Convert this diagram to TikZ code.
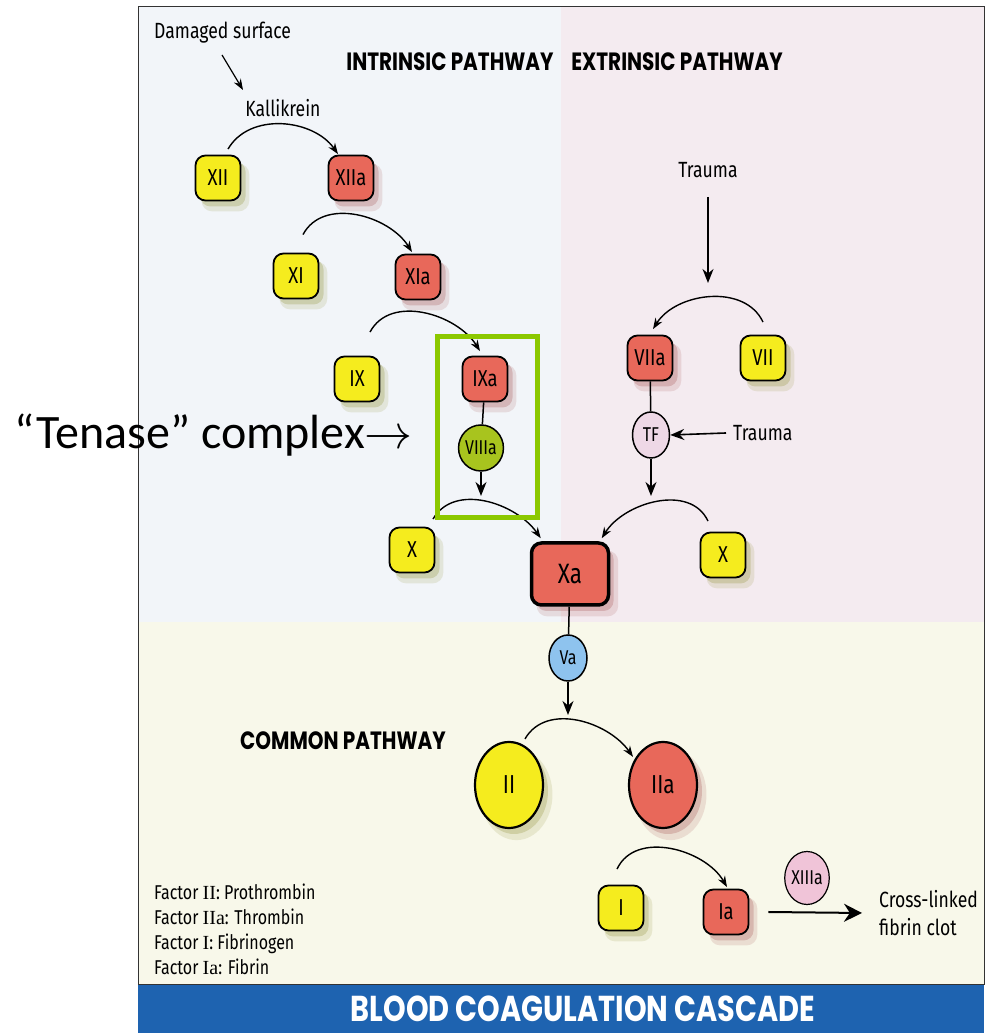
\documentclass[tikz,border=0pt]{standalone}
\usepackage{fix-cm}
\usepackage{fontspec}
\usetikzlibrary{arrows.meta,shadows,shapes.geometric,positioning}
\newfontfamily\labfont[FakeStretch=0.8]{Fira Sans}
\newfontfamily\headfont[FakeStretch=0.8]{Poppins}
\newfontfamily\tenfont{Carlito}
\newfontfamily\numfont{Liberation Serif}
\definecolor{intbg}{HTML}{F2F5F9}
\definecolor{extbg}{HTML}{F4EBF0}
\definecolor{combg}{HTML}{F8F8EA}
\definecolor{bannerB}{HTML}{1E63B0}
\definecolor{facY}{HTML}{F5EC1E}
\definecolor{facR}{HTML}{E8685A}
\definecolor{cofG}{HTML}{A8C41E}
\definecolor{tfP}{HTML}{EED8E6}
\definecolor{vaB}{HTML}{8EC3EE}
\definecolor{xiiiP}{HTML}{F0C4D8}
\definecolor{tenG}{HTML}{8CC800}
\definecolor{shY}{HTML}{8A8A2A}
\definecolor{shR}{HTML}{A04848}
\begin{document}
\begin{tikzpicture}[x=1pt,y=1pt,
  box/.style={draw=black, line width=1.8pt, rounded corners=10pt, minimum width=45pt, minimum height=45pt, inner sep=0pt, font=\labfont\fontsize{23}{23}\selectfont},
  ysh/.style={drop shadow={shadow xshift=7pt, shadow yshift=-9pt, shadow scale=1.06, fill=shY, opacity=0.15}, drop shadow={shadow xshift=5pt, shadow yshift=-6pt, fill=shY, opacity=0.25}},
  rsh/.style={drop shadow={shadow xshift=7pt, shadow yshift=-9pt, shadow scale=1.06, fill=shR, opacity=0.15}, drop shadow={shadow xshift=5pt, shadow yshift=-6pt, fill=shR, opacity=0.25}},
  fac/.style={box, fill=facY, ysh},
  act/.style={box, fill=facR, rsh},
  cof/.style={ellipse, draw=black, line width=1.5pt, inner sep=0pt, minimum width=38pt, minimum height=46pt, font=\labfont\fontsize{20}{20}\selectfont},
  circ/.style={ellipse, draw=black, line width=2.2pt, inner sep=0pt, minimum width=68pt, minimum height=86pt, font=\labfont\fontsize{26}{26}\selectfont},
  lab/.style={inner sep=1pt, font=\labfont\fontsize{22}{26}\selectfont},
  head/.style={inner sep=1pt, font=\headfont\bfseries\fontsize{25}{25}\selectfont},
  arc/.style={line width=1.4pt, -{Stealth[length=11pt,width=8pt]}},
  down/.style={line width=1.6pt, -{Stealth[length=14pt,width=11pt]}}]
\useasboundingbox (0,0) rectangle (985,1033);
\fill[white] (0,0) rectangle (985,1033);
\fill[intbg] (138,411) rectangle (561,1026);
\fill[extbg] (561,411) rectangle (984,1026);
\fill[combg] (138,48) rectangle (984,411);
\fill[bannerB] (138,0) rectangle (984,48);
\draw[black!80, line width=1pt] (138,48) rectangle (984,1026);
% intrinsic
\node[lab, anchor=west] (dmg) at (153,1000) {Damaged surface};
\node[lab] (kal) at (283,925) {Kallikrein};
\node[head] (intr) at (450,971) {INTRINSIC PATHWAY};
\node[fac] (XII) at (218,855) {XII};
\node[act] (XIIa) at (351,855) {XIIa};
\node[fac] (XI) at (296,757) {XI};
\node[act] (XIa) at (418,756) {XIa};
\node[fac] (IX) at (357,654) {IX};
\node[act] (IXa) at (485,654) {IXa};
\node[cof, fill=cofG] (VIIIa) at (481,585) {VIIIa};
\node[fac] (Xl) at (412,483) {X};
\node[act, line width=3.5pt, minimum width=77pt, minimum height=62pt, font=\labfont\fontsize{28}{28}\selectfont] (Xa) at (570,459) {Xa};
\coordinate (dmgA) at (222,978);
\coordinate (dmgB) at (243,943);
\coordinate (tenTop) at (481,537);
\draw[line width=1.2pt, -{Stealth[length=11pt,width=8pt]}] (dmgA) -- (dmgB);
\draw[arc] ([shift={(10,5.5)}]XII.north) to[out=60,in=125] ([shift={(-13,0.5)}]XIIa.north);
\draw[arc] ([shift={(7,18)}]XI.north) to[out=62,in=122] ([shift={(-6,1.5)}]XIa.north);
\draw[arc] ([shift={(13,23.5)}]IX.north) to[out=62,in=122] ([shift={(-5,4.5)}]IXa.north);
\draw[line width=1.5pt] (IXa) -- (VIIIa);
\draw[down] (VIIIa) -- (tenTop);
\draw[arc] ([shift={(21,7.5)}]Xl.north) to[out=60,in=125] ([shift={(11,3)}]Xa.north west);
% extrinsic
\node[head] (extr) at (677,971) {EXTRINSIC PATHWAY};
\node[lab] (trA) at (708,863) {Trauma};
\node[act] (VIIa) at (650,675) {VIIa};
\node[fac] (VII) at (763,675) {VII};
\node[cof, fill=tfP, minimum width=37pt] (TF) at (651,598) {TF};
\node[lab, anchor=west] (trB) at (732,600) {Trauma};
\node[fac] (Xr) at (723,478) {X};
\coordinate (extTop) at (708,741);
\coordinate (tfTop) at (651,537);
\draw[down] ([yshift=-18pt]trA.south) -- ([yshift=9pt]extTop);
\draw[arc] ([shift={(0,12.5)}]VII.north) to[out=115,in=58] ([shift={(3,5.5)}]VIIa.north);
\draw[line width=1.5pt] (VIIa) -- (TF);
\draw[down] ([xshift=-6pt]trB.west) -- (TF.east);
\draw[down] (TF) -- (tfTop);
\draw[arc] ([shift={(-15,10.5)}]Xr.north) to[out=115,in=58] ([shift={(-8.5,3)}]Xa.north east);
% common
\node[head] (comm) at (343,292) {COMMON PATHWAY};
\node[cof, fill=vaB] (Va) at (568,375) {Va};
\node[circ, fill=facY, ysh] (II) at (509,248) {II};
\node[circ, fill=facR, rsh] (IIa) at (663,248) {IIa};
\node[fac] (I) at (621,125) {I};
\node[act] (Ia) at (726,121) {Ia};
\node[cof, fill=xiiiP, line width=1.2pt, minimum width=41pt, minimum height=53pt] (XIIIa) at (807,155) {XIIIa};
\node[lab, anchor=west, align=left, font=\labfont\fontsize{22}{28}\selectfont] (clot) at (878,120) {Cross-linked\\fibrin clot};
\coordinate (vaTop) at (568,318);
\draw[line width=1.5pt] (Xa) -- (Va);
\draw[down] (Va) -- (vaTop);
\draw[arc] ([shift={(16,2)}]II.north) to[out=60,in=125] ([shift={(-30,-16)}]IIa.north);
\draw[arc] ([shift={(-4,15.5)}]I.north) to[out=65,in=120] ([shift={(1,1.5)}]Ia.north);
\draw[line width=2pt, -{Stealth[length=18pt,width=18pt]}] ([xshift=19pt]Ia.east) -- ([xshift=-16pt]clot.west);
\node[lab, anchor=north west, align=left, font=\labfont\fontsize{20}{25}\selectfont] (key) at (153,150)
  {Factor {\numfont II}: Prothrombin\\Factor {\numfont IIa}: Thrombin\\Factor {\numfont I}: Fibrinogen\\Factor {\numfont Ia}: Fibrin};
\node[head, text=white, font=\headfont\bfseries\fontsize{36}{36}\selectfont] (ttl) at (583,24) {BLOOD COAGULATION CASCADE};
% tenase
\node[draw=tenG, line width=5pt, minimum width=100pt, minimum height=181pt] (tenbox) at (487,605.5) {};
\node[anchor=west, inner sep=0pt, font=\tenfont\fontsize{48}{48}\selectfont] (ten) at (14,598) {“Tenase” complex$\rightarrow$};
\end{tikzpicture}
\end{document}
